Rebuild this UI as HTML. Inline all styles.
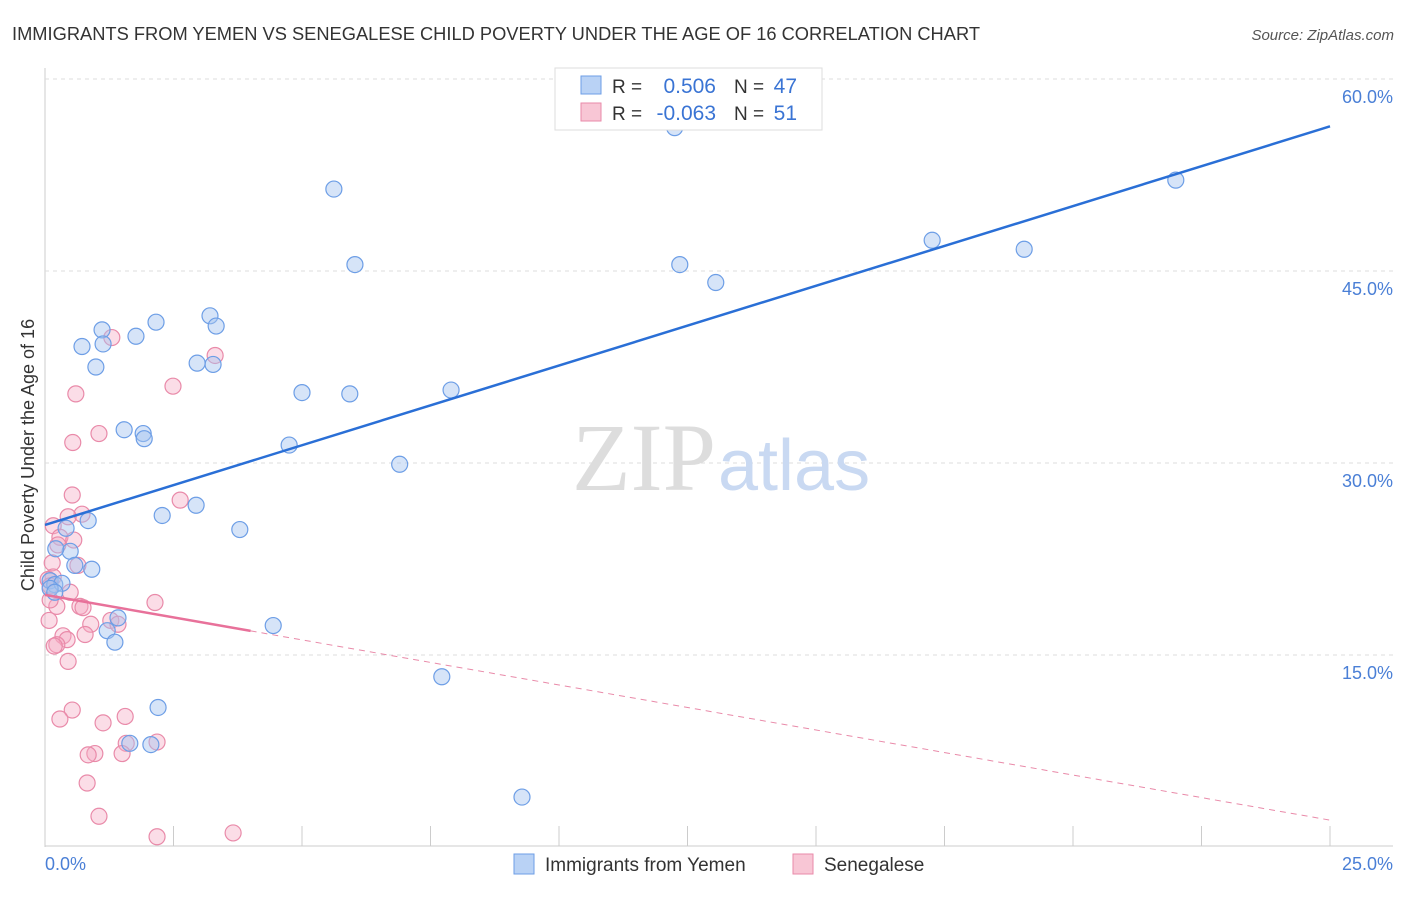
<!DOCTYPE html>
<html><head><meta charset="utf-8"><style>
body{margin:0;background:#fff;font-family:"Liberation Sans",sans-serif;}
</style></head><body>
<svg width="1406" height="892" xmlns="http://www.w3.org/2000/svg">
<text x="12" y="40" font-size="18" fill="#333" textLength="968" lengthAdjust="spacingAndGlyphs">IMMIGRANTS FROM YEMEN VS SENEGALESE CHILD POVERTY UNDER THE AGE OF 16 CORRELATION CHART</text>
<text x="1394" y="40" font-size="15" fill="#555" text-anchor="end" font-style="italic">Source: ZipAtlas.com</text>
<g id="grid"></g>
<text x="716" y="490" font-size="96" font-family="Liberation Serif" fill="#ddd" text-anchor="end">ZIP</text>
<text x="718" y="490" font-size="72" fill="#c9d9f2">atlas</text>
<g id="pts"></g>
<text transform="translate(34,455) rotate(-90)" font-size="18" fill="#333" text-anchor="middle">Child Poverty Under the Age of 16</text>
<text x="45" y="870" font-size="18" fill="#4a7fd6">0.0%</text>
<text x="1393" y="870" font-size="18" fill="#4a7fd6" text-anchor="end">25.0%</text>
<g>
<rect x="555" y="68" width="267" height="62" fill="#fff" stroke="#ddd"/>
<rect x="581" y="76" width="20" height="18" fill="#b9d2f5" stroke="#6d9ee6"/>
<rect x="581" y="103" width="20" height="18" fill="#f8c6d5" stroke="#e98aa9"/>
<text x="612" y="93" font-size="19" fill="#333">R =</text>
<text x="716" y="93" font-size="21" fill="#3a74d4" text-anchor="end">0.506</text>
<text x="734" y="93" font-size="19" fill="#333">N =</text>
<text x="797" y="93" font-size="21" fill="#3a74d4" text-anchor="end">47</text>
<text x="612" y="120" font-size="19" fill="#333">R =</text>
<text x="716" y="120" font-size="21" fill="#3a74d4" text-anchor="end">-0.063</text>
<text x="734" y="120" font-size="19" fill="#333">N =</text>
<text x="797" y="120" font-size="21" fill="#3a74d4" text-anchor="end">51</text>
</g>
<g>
<rect x="514" y="854" width="20" height="20" fill="#b9d2f5" stroke="#6d9ee6"/>
<text x="545" y="871" font-size="19" fill="#333">Immigrants from Yemen</text>
<rect x="793" y="854" width="20" height="20" fill="#f8c6d5" stroke="#e98aa9"/>
<text x="824" y="871" font-size="19" fill="#333">Senegalese</text>
</g>
</svg>
<script>
const yTicks=[15,30,45,60];
const xTickVals=[0,2.5,5,7.5,10,12.5,15,17.5,20,22.5,25];
const blueX=[12.25,5.62,22.0,17.26,19.05,6.03,12.35,13.05,2.16,3.21,3.33,1.11,1.77,0.72,1.13,2.96,3.27,0.99,5.0,5.93,7.9,1.54,1.91,1.93,4.75,6.9,2.94,2.28,0.84,0.41,3.79,0.49,0.21,0.58,0.91,0.1,0.19,0.33,0.1,0.19,1.42,1.21,4.44,1.36,7.72,2.2,2.06,1.65,9.28];
const blueY=[56.2,51.4,52.1,47.4,46.7,45.5,45.5,44.1,41.0,41.5,40.7,40.4,39.9,39.1,39.3,37.8,37.7,37.5,35.5,35.4,35.7,32.6,32.3,31.9,31.4,29.9,26.7,25.9,25.5,24.9,24.8,23.1,23.3,22.0,21.7,20.8,20.5,20.6,20.2,19.9,17.9,16.9,17.3,16.0,13.3,10.9,8.0,8.1,3.9];
const pinkX=[1.3,3.31,2.49,0.6,1.05,0.54,0.53,2.63,0.72,0.45,0.16,0.29,0.56,0.25,0.14,0.64,0.16,0.06,0.1,0.49,2.14,0.68,0.23,0.74,1.28,1.42,0.89,0.08,0.78,0.35,0.43,0.23,0.18,0.45,0.53,0.29,1.13,1.56,2.18,1.58,0.97,0.84,1.5,0.82,1.05,2.18,3.66,0.1];
const pinkY=[39.8,38.4,36.0,35.4,32.3,31.6,27.5,27.1,26.0,25.8,25.1,24.2,23.98,23.6,22.2,22.0,21.1,20.9,20.4,19.9,19.1,18.8,18.8,18.7,17.7,17.4,17.4,17.7,16.6,16.5,16.2,15.8,15.7,14.5,10.7,10.0,9.7,10.2,8.2,8.1,7.3,7.2,7.3,5.0,2.4,0.8,1.1,19.3];
const blueLine=[25.16,56.3], pinkLine=[19.7,2.1], pinkSolidEnd=4.0;
const NS="http://www.w3.org/2000/svg";
const sx=v=>45+v*51.4, sy=v=>847-v*12.8;
function mk(parent,tag,at){const e=document.createElementNS(NS,tag);for(const k in at)e.setAttribute(k,at[k]);parent.appendChild(e);return e;}
const g=document.getElementById('grid'), p=document.getElementById('pts');
const ax=mk(g,'line',{x1:45,y1:68,x2:45,y2:847,stroke:'#ccc'});


const bx=mk(g,'line',{x1:45,y1:846,x2:1393,y2:846,stroke:'#ccc'});


yTicks.forEach(t=>{
 const l=mk(g,'line',{x1:45,y1:sy(t),x2:1393,y2:sy(t),stroke:'#ddd','stroke-dasharray':'4,4'});
 
 
 const tx=mk(g,'text',{x:1393,y:sy(t)+24,'font-size':18,fill:'#4a7fd6','text-anchor':'end'});
 tx.textContent=t.toFixed(1)+'%';
 
 
});
xTickVals.forEach(t=>{
 const l=mk(g,'line',{x1:sx(t),y1:826,x2:sx(t),y2:846,stroke:'#ccc'});
 
 
});
pinkX.forEach((x,i)=>{
 const c=mk(p,'circle',{cx:sx(x),cy:sy(pinkY[i]),r:8,fill:'rgba(244,170,195,0.4)',stroke:'#e98aa9','stroke-width':1.2});
 
 
});
blueX.forEach((x,i)=>{
 const c=mk(p,'circle',{cx:sx(x),cy:sy(blueY[i]),r:8,fill:'rgba(164,196,240,0.45)',stroke:'#6d9ee6','stroke-width':1.2});
 
 
});
const pv=x=>pinkLine[0]+(pinkLine[1]-pinkLine[0])*x/25;
const pd=mk(p,'line',{x1:sx(pinkSolidEnd),y1:sy(pv(pinkSolidEnd)),x2:sx(25),y2:sy(pinkLine[1]),stroke:'#e98aa9','stroke-dasharray':'6,5','stroke-width':1});


const ps=mk(p,'line',{x1:sx(0),y1:sy(pinkLine[0]),x2:sx(pinkSolidEnd),y2:sy(pv(pinkSolidEnd)),stroke:'#e8719a','stroke-width':2.5});


const bl=mk(p,'line',{x1:sx(0),y1:sy(blueLine[0]),x2:sx(25),y2:sy(blueLine[1]),stroke:'#2a6fd6','stroke-width':2.5});


</script>
</body></html>
